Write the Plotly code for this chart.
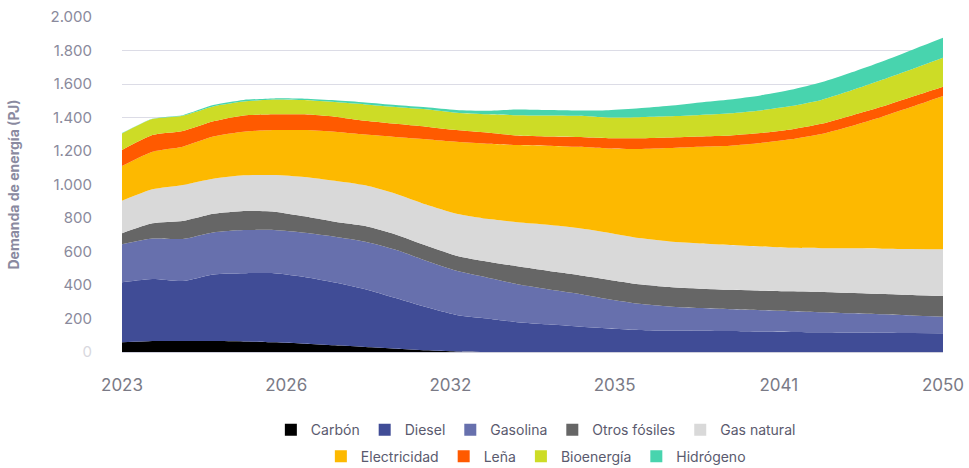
import plotly.graph_objects as go

years = list(range(2023, 2051))

carbon = [58, 66, 66, 65, 63, 58, 50, 40, 30, 20, 10, 3, 0, 0, 0, 0, 0, 0, 0, 0, 0, 0, 0, 0, 0, 0, 0, 0]
diesel = [358, 370, 358, 398, 407, 412, 398, 375, 345, 302, 258, 218, 200, 178, 165, 152, 140, 132, 128, 127, 125, 122, 120, 118, 116, 115, 113, 112]
gasolina = [227, 241, 251, 251, 258, 258, 264, 273, 283, 288, 277, 264, 245, 227, 210, 196, 175, 156, 144, 135, 130, 128, 124, 120, 115, 110, 105, 99]
otros_fosiles = [66, 91, 107, 111, 114, 110, 98, 90, 94, 92, 91, 90, 95, 107, 110, 112, 117, 117, 116, 116, 116, 116, 118, 120, 121, 121, 122, 123]
gas_natural = [194, 203, 215, 209, 213, 219, 235, 244, 243, 243, 244, 250, 255, 263, 275, 280, 280, 275, 272, 270, 268, 264, 260, 262, 267, 271, 275, 279]
electricidad = [207, 225, 229, 252, 260, 268, 280, 293, 303, 339, 390, 430, 448, 461, 472, 485, 503, 532, 558, 578, 593, 618, 648, 682, 731, 788, 850, 915]
lena = [96, 99, 93, 91, 97, 94, 94, 90, 82, 78, 75, 70, 67, 56, 54, 58, 61, 64, 63, 61, 61, 59, 58, 60, 62, 60, 60, 56]
bioenergia = [99, 96, 92, 89, 83, 89, 85, 87, 98, 101, 104, 103, 109, 122, 126, 127, 124, 126, 126, 128, 132, 135, 140, 143, 150, 160, 165, 173]
hidrogeno = [2, 2, 3, 8, 10, 6, 8, 11, 12, 12, 12, 17, 21, 34, 33, 32, 44, 53, 63, 75, 83, 90, 97, 105, 108, 110, 115, 119]

series_names = ["Carbón", "Diesel", "Gasolina", "Otros fósiles", "Gas natural",
                "Electricidad", "Leña", "Bioenergía", "Hidrógeno"]
series_values = [carbon, diesel, gasolina, otros_fosiles, gas_natural,
                 electricidad, lena, bioenergia, hidrogeno]
colors = ["#000000", "#404c96", "#6770ad", "#666666", "#d9d9d9",
          "#fdb900", "#ff5a00", "#cddc26", "#48d4ae"]

x_tick_labels = ["2023", "2026", "2032", "2035", "2041", "2050"]
y_tick_values = [0, 200, 400, 600, 800, 1000, 1200, 1400, 1600, 1800, 2000]
y_tick_labels = ["<span style='color:#d8d8de'>0</span>", "200", "400", "600", "800",
                 "1.000", "1.200", "1.400", "1.600", "1.800", "2.000"]

fig = go.Figure()
for name, vals, col in zip(series_names, series_values, colors):
    fig.add_trace(go.Scatter(
        x=years, y=vals, name=name, stackgroup="one", mode="lines",
        line=dict(width=0, color=col, shape="spline", smoothing=0.6),
        fillcolor=col, showlegend=False, hoverinfo="x+y+name"))

for i, (name, col) in enumerate(zip(series_names, colors)):
    fig.add_trace(go.Scatter(
        x=[None], y=[None], name=name, mode="markers",
        marker=dict(symbol="square", size=12, color=col),
        showlegend=True, legend="legend" if i < 5 else "legend2"))

n_lab = len(x_tick_labels)
span = years[-1] - years[0]
tickvals = [years[0] + span * k / (n_lab - 1) for k in range(n_lab)]

legend_common = dict(orientation="h", xref="container", yref="container",
                     xanchor="center", x=0.553, yanchor="middle",
                     traceorder="normal",
                     font=dict(family="Inter, sans-serif", size=14, color="#5a5a6e"),
                     itemwidth=30, bgcolor="rgba(0,0,0,0)", tracegroupgap=0)

fig.update_layout(
    width=969, height=468,
    margin=dict(l=122, r=26, t=17, b=116, autoexpand=False),
    paper_bgcolor="white", plot_bgcolor="white",
    font=dict(family="Inter, sans-serif"),
    separators=",.",
    legend=dict(**legend_common, y=0.081),
    legend2=dict(**legend_common, y=0.024),
    xaxis=dict(
        range=[years[0], years[-1]], tickvals=tickvals, ticktext=x_tick_labels,
        showgrid=False, zeroline=False, showline=True, linecolor="#cfcfdc", linewidth=1,
        ticks="outside", ticklen=18, tickcolor="rgba(0,0,0,0)", automargin=False,
        tickfont=dict(size=17, color="#7a7a86")),
    yaxis=dict(
        range=[0, 2000], tickvals=y_tick_values, ticktext=y_tick_labels,
        showgrid=True, gridcolor="#dcdce6", gridwidth=1, zeroline=False,
        ticks="outside", ticklen=26, tickcolor="rgba(0,0,0,0)", automargin=False,
        tickfont=dict(size=15, color="#8a8a9c"),
        title=dict(text="<b>Demanda de energía (PJ)</b>", standoff=27,
                   font=dict(size=14, color="#8a8aa0"))),
)

fig.write_html("out.html", config={"displayModeBar": False})
with open("out.html", encoding="utf-8") as f:
    html = f.read()
html = html.replace("<head>", "<head><style>html,body{margin:0;padding:0;overflow:hidden;}</style>", 1)
with open("out.html", "w", encoding="utf-8") as f:
    f.write(html)
